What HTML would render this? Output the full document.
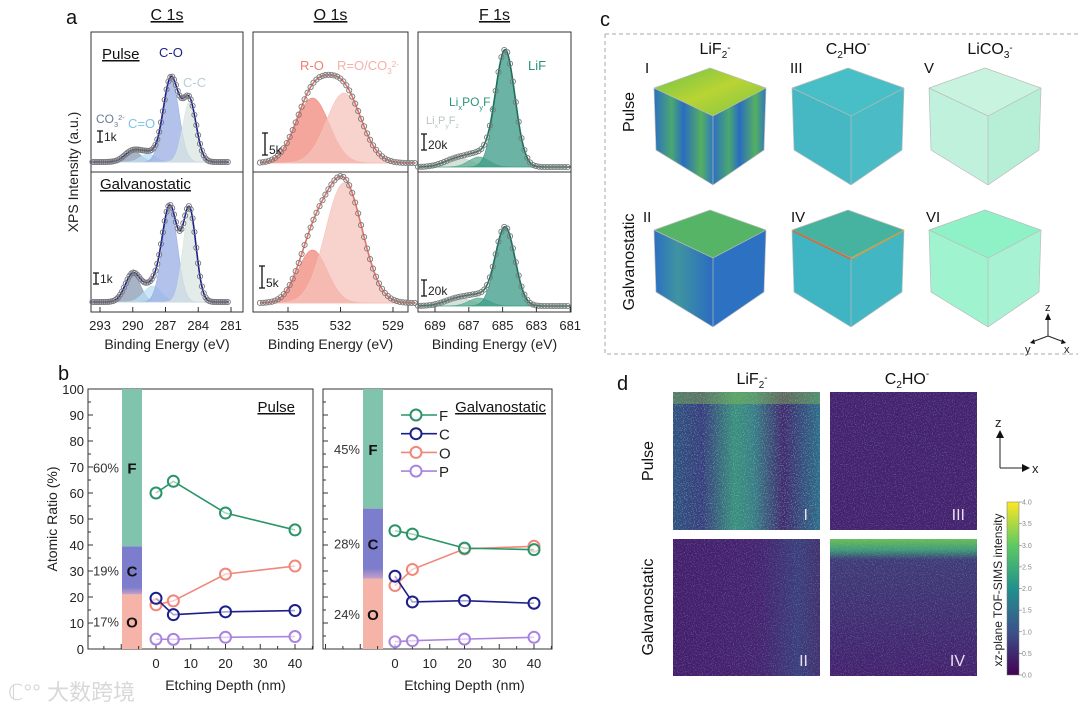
<!DOCTYPE html>
<html><head><meta charset="utf-8">
<style>
body{margin:0;background:#fff;}
svg{display:block;font-family:"Liberation Sans",Arial,sans-serif;}
</style></head>
<body>
<svg id="fig" width="1080" height="710" viewBox="0 0 1080 710" xmlns="http://www.w3.org/2000/svg">
<defs>
  <linearGradient id="viridis" x1="0" y1="1" x2="0" y2="0">
    <stop offset="0" stop-color="#440154"/><stop offset="0.25" stop-color="#3b528b"/>
    <stop offset="0.5" stop-color="#21918c"/><stop offset="0.75" stop-color="#5ec962"/>
    <stop offset="1" stop-color="#fde725"/>
  </linearGradient>
  <linearGradient id="barC" x1="0" y1="0" x2="0" y2="1">
    <stop offset="0" stop-color="#7c7dcc"/><stop offset="0.85" stop-color="#7c7dcc"/><stop offset="1" stop-color="#c8a0c8"/>
  </linearGradient>
  <linearGradient id="cubeTopI" x1="0" y1="0" x2="1" y2="1">
    <stop offset="0" stop-color="#6cc24a"/><stop offset="0.5" stop-color="#b9d433"/><stop offset="1" stop-color="#7cc448"/>
  </linearGradient>
  <linearGradient id="cubeSideI" x1="0" y1="0" x2="1" y2="0">
    <stop offset="0" stop-color="#2c6fc2"/><stop offset="0.3" stop-color="#4aa870"/><stop offset="0.5" stop-color="#2a6cc0"/><stop offset="0.8" stop-color="#55b060"/><stop offset="1" stop-color="#2e78c0"/>
  </linearGradient>
  <linearGradient id="cubeSideII" x1="0" y1="0" x2="1" y2="0">
    <stop offset="0" stop-color="#2c6fc2"/><stop offset="0.4" stop-color="#3f94a0"/><stop offset="1" stop-color="#2a6cc0"/>
  </linearGradient>
  <linearGradient id="hmI" x1="0" y1="0" x2="1" y2="0">
    <stop offset="0" stop-color="#31507e"/><stop offset="0.2" stop-color="#3a3c7e"/><stop offset="0.42" stop-color="#3c8f7c"/><stop offset="0.55" stop-color="#3a7d86"/><stop offset="0.75" stop-color="#43296f"/><stop offset="1" stop-color="#2f6c8a"/>
  </linearGradient>
  <linearGradient id="hmIV" x1="0" y1="0" x2="0" y2="1">
    <stop offset="0" stop-color="#6cbd54"/><stop offset="0.08" stop-color="#3f9a78"/><stop offset="0.15" stop-color="#413a78"/><stop offset="1" stop-color="#46206e"/>
  </linearGradient>
  <linearGradient id="hmII" x1="0" y1="0" x2="1" y2="0">
    <stop offset="0" stop-color="#461d6c"/><stop offset="0.6" stop-color="#472370"/><stop offset="0.85" stop-color="#3d3d7c"/><stop offset="1" stop-color="#443070"/>
  </linearGradient>
  <filter id="speck" x="0" y="0" width="1" height="1">
    <feTurbulence type="fractalNoise" baseFrequency="0.9" numOctaves="1" seed="3" result="n"/>
    <feColorMatrix in="n" type="matrix" values="0 0 0 0 0.2  0 0 0 0 0.6  0 0 0 0 0.55  0 0 0 6 -3.2"/>
  </filter>
</defs>
<g id="panelA"></g>
<g id="panelB"></g>
<g id="panelC"></g>
<g id="panelD"></g>
<text x="8" y="700" font-size="22" fill="#d8d8d8" font-family="'Liberation Sans','Noto Sans CJK SC',sans-serif">ℂ°° 大数跨境</text>
</svg>
<script>
// ---------- Panel b data ----------
const depths = [0, 5, 20, 40];
const pulseF = [60, 64.5, 52.3, 45.8];
const pulseC = [19.5, 13.2, 14.3, 14.8];
const pulseO = [17, 18.5, 28.8, 31.9];
const pulseP = [3.8, 3.7, 4.5, 4.8];
const galvF = [45.5, 44.2, 38.8, 38.2];
const galvC = [28, 18.1, 18.6, 17.6];
const galvO = [24.4, 30.6, 38.5, 39.5];
const galvP = [2.8, 3.2, 3.8, 4.5];
const pulseBar = [21, 18.5, 60.5];   // O, C, F stacked
const galvBar = [27, 27, 46];
const pulseBarLabels = ['17%', '19%', '60%'];
const galvBarLabels = ['24%', '28%', '45%'];
const yTicks = [0,10,20,30,40,50,60,70,80,90,100];
const xTicks = [0,10,20,30,40];
// ---------- Panel a data (peak fits: center eV, amplitude %, sigma eV) ----------
const c1sPulse = [[290.0,11,0.75],[288.6,8,0.7],[286.5,84,0.72],[284.8,60,0.62]];
const c1sGalv = [[290.0,28,0.7],[288.2,16,0.8],[286.6,94,0.7],[284.8,92,0.6]];
const o1sPulse = [[533.6,65,0.95],[531.8,70,1.0]];
const o1sGalv = [[533.6,53,0.85],[531.8,120,1.05]];
const f1sPulse = [[687.6,9,0.8],[686.4,10,0.6],[684.85,117,0.58]];
const f1sGalv = [[687.6,8,0.8],[686.4,8,0.6],[684.85,79,0.58]];
const c1sTicks = [293,290,287,284,281];
const o1sTicks = [535,532,529];
const f1sTicks = [689,687,685,683,681];

const NS='http://www.w3.org/2000/svg';
function mk(parent, tag, attrs, text){
  const e=document.createElementNS(NS,tag);
  for(const k in attrs) e.setAttribute(k,attrs[k]);
  if(text!==undefined) e.textContent=text;
  parent.appendChild(e); return e;
}
const A=document.getElementById('panelA');
const B=document.getElementById('panelB');
const C=document.getElementById('panelC');
const D=document.getElementById('panelD');

function chem(g,x,y,fs,fill,anchor){
  return function(parts){
    const t=mk(g,'text',{x:x,y:y,'font-size':fs,'text-anchor':anchor||'middle',fill:fill||'#111'});
    parts.forEach(p=>{
      const s=document.createElementNS(NS,'tspan');
      s.textContent=p[0];
      if(p[1]==='sub'||p[1]==='sup') s.setAttribute('font-size',fs*0.62);
      if(p[1]==='sub') s.setAttribute('dy',4); if(p[1]==='subback') s.setAttribute('dy',-4);
      if(p[1]==='sup') s.setAttribute('dy',-7); if(p[1]==='supback') s.setAttribute('dy',7);
      t.appendChild(s);
    });
    return t;
  };
}

// ================= Panel A =================
function gauss(E,p){return p[1]*Math.exp(-0.5*((E-p[0])/p[2])**2);}
function spectrum(g, peaks, xf, Emin, Emax, base, colors, env, scaleLbl, name){
  const step=0.05;
  peaks.forEach((p,i)=>{
    let d='M'+xf(Emax)+','+base;
    for(let E=Emax;E>=Emin;E-=step){d+=' L'+xf(E).toFixed(1)+','+(base-gauss(E,p)).toFixed(1);}
    d+=' L'+xf(Emin)+','+base+'Z';
    const pe=mk(g,'path',{d:d,fill:colors[i],'fill-opacity':0.75,stroke:colors[i],'stroke-width':0.6});
    
    
  });
  let d='';
  for(let E=Emax;E>=Emin;E-=step){let s=0;peaks.forEach(p=>s+=gauss(E,p));d+=(d?' L':'M')+xf(E).toFixed(1)+','+(base-s).toFixed(1);}
  const en=mk(g,'path',{d:d,fill:'none',stroke:env,'stroke-width':1.6});
  
  
  for(let E=Emax;E>=Emin;E-=0.17){
    let s=0;peaks.forEach(p=>s+=gauss(E,p));
    const c=mk(g,'circle',{cx:xf(E).toFixed(1),cy:(base-s).toFixed(1),r:2.6,fill:'none',stroke:'#7a7a7a','stroke-width':0.9});
    
    
  }
}
function frameA(x0,x1,title){
  mk(A,'rect',{x:x0,y:32,width:x1-x0,height:280,fill:'none',stroke:'#333','stroke-width':1});
  mk(A,'line',{x1:x0,y1:172,x2:x1,y2:172,stroke:'#333','stroke-width':1});
  const t=mk(A,'text',{x:(x0+x1)/2,y:20,'font-size':16,'text-anchor':'middle',fill:'#111','text-decoration':'underline'},title);
  
  
  mk(A,'text',{x:(x0+x1)/2,y:349,'font-size':14,'text-anchor':'middle',fill:'#222'},'Binding Energy (eV)');
}
function ticksA(ticks,xf){
  ticks.forEach(v=>{
    mk(A,'line',{x1:xf(v),y1:312,x2:xf(v),y2:307,stroke:'#333'});
    mk(A,'text',{x:xf(v),y:330,'font-size':13,'text-anchor':'middle',fill:'#222'},v);
  });
}
function scaleBar(x,y,h,lbl){
  mk(A,'path',{d:`M${x-3},${y} h6 M${x},${y} v${h} M${x-3},${y+h} h6`,stroke:'#111','stroke-width':1.3,fill:'none'});
  mk(A,'text',{x:x+4,y:y+h-1,'font-size':12,fill:'#222'},lbl);
}
mk(A,'text',{x:66,y:24,'font-size':20,fill:'#111'},'a');
const yt=mk(A,'text',{x:0,y:0,'font-size':14,'text-anchor':'middle',fill:'#222',transform:'translate(78,172) rotate(-90)'},'XPS Intensity (a.u.)');


// C1s
const xC=E=>100+(293-E)*131/12;
frameA(91,243,'C 1s');
spectrum(A,c1sPulse,xC,281.2,293.7,162,['#8a9ab3','#b9def4','#98ade3','#dbe6e2'],'#1c1f8a','','c1s-pulse');
spectrum(A,c1sGalv,xC,281.2,293.7,302,['#8a9ab3','#b9def4','#98ade3','#dbe6e2'],'#1c1f8a','','c1s-galv');
ticksA(c1sTicks,xC);
mk(A,'text',{x:102,y:59,'font-size':15,fill:'#111','text-decoration':'underline'},'Pulse');
mk(A,'text',{x:159,y:57,'font-size':13,fill:'#1c1f8a'},'C-O');
mk(A,'text',{x:183,y:87,'font-size':13,fill:'#b8ccd8'},'C-C');
chem(A,96,123,12,'#6a7d98','start')([['CO'],['3','sub'],['2-','sup']]);
mk(A,'text',{x:128,y:128,'font-size':13,fill:'#7fc4ea'},'C=O');
scaleBar(100,131,11,'1k');
mk(A,'text',{x:100,y:189,'font-size':15,fill:'#111','text-decoration':'underline'},'Galvanostatic');
scaleBar(96,273,11,'1k');
// O1s
const xO=E=>288+(535-E)*17.5;
frameA(253,408,'O 1s');
spectrum(A,o1sPulse,xO,527.7,536.6,163,['#f0877b','#f6c3bb'],'#e0736a','','o1s-pulse');
spectrum(A,o1sGalv,xO,527.7,536.6,303,['#f0877b','#f6c3bb'],'#e0736a','','o1s-galv');
ticksA(o1sTicks,xO);
mk(A,'text',{x:300,y:70,'font-size':13,fill:'#ef7f73'},'R-O');
chem(A,337,70,13,'#f3b1a8','start')([['R=O/CO'],['3','sub'],['2-','sup']]);
scaleBar(265,133,22,'5k');
scaleBar(262,266,22,'5k');
// F1s
const xF=E=>435+(689-E)*16.9;
frameA(418,571,'F 1s');
spectrum(A,f1sPulse,xF,681,690,167,['#c6d8cd','#5fae93','#3a9a85'],'#1f6e5e','','f1s-pulse');
spectrum(A,f1sGalv,xF,681,690,306,['#c6d8cd','#5fae93','#3a9a85'],'#1f6e5e','','f1s-galv');
ticksA(f1sTicks,xF);
mk(A,'text',{x:528,y:70,'font-size':13,fill:'#2a9478'},'LiF');
chem(A,449,106,12,'#2a9478','start')([['Li'],['x','sub'],['PO','subback'],['y','sub'],['F','subback'],['z','sub']]);
chem(A,426,124,11,'#b8c8be','start')([['Li'],['x','sub'],['P','subback'],['y','sub'],['F','subback'],['z','sub']]);
scaleBar(424,134,16,'20k');
scaleBar(424,280,16,'20k');

// ================= Panel B =================
const yB=v=>649-v*2.6;
mk(B,'text',{x:58,y:380,'font-size':20,fill:'#111'},'b');
const yb=mk(B,'text',{x:0,y:0,'font-size':14,'text-anchor':'middle',fill:'#222',transform:'translate(57,519) rotate(-90)'},'Atomic Ratio (%)');


function plotB(x0,x1,xz,barX,bar,barLbls,F,Cc,O,P,label,showY){
  const xf=d=>xz+d*139/40;
  const fr=mk(B,'rect',{x:x0,y:389,width:x1-x0,height:260,fill:'none',stroke:'#333','stroke-width':1});
  
  
  const cols=['#f6b4a9','url(#barC)','#80c4ad'];
  const letters=['O','C','F'];
  let cum=0;
  bar.forEach((v,i)=>{
    const r=mk(B,'rect',{x:barX,y:yB(cum+v),width:20,height:v*2.6,fill:cols[i]});
    
    
    const mid=yB(cum+v/2);
    mk(B,'text',{x:barX+10,y:mid+6,'font-size':15,'font-weight':'bold','text-anchor':'middle',fill:'#111'},letters[i]);
    mk(B,'text',{x:barX-3,y:mid+5,'font-size':13,'text-anchor':'end',fill:'#333'},barLbls[i]);
    cum+=v;
  });
  yTicks.forEach(v=>{
    mk(B,'line',{x1:x0,y1:yB(v),x2:x0+5,y2:yB(v),stroke:'#333'});
    if(v<100) mk(B,'line',{x1:x0,y1:yB(v+5),x2:x0+3,y2:yB(v+5),stroke:'#333'});
    if(showY) mk(B,'text',{x:x0-4,y:yB(v)+5,'font-size':13,'text-anchor':'end',fill:'#222'},v);
  });
  xTicks.forEach(v=>{
    mk(B,'line',{x1:xf(v),y1:649,x2:xf(v),y2:644,stroke:'#333'});
    mk(B,'text',{x:xf(v),y:668,'font-size':13,'text-anchor':'middle',fill:'#222'},v);
  });
  for(let v=-25;v<=45;v+=5){ if(xf(v)>x0&&xf(v)<x1&&v%10!==0) mk(B,'line',{x1:xf(v),y1:649,x2:xf(v),y2:646,stroke:'#333'}); }
  for(let v=-30;v<0;v+=10){ if(xf(v)>x0) mk(B,'line',{x1:xf(v),y1:649,x2:xf(v),y2:644,stroke:'#333'}); }
  mk(B,'text',{x:(xf(0)+xf(40))/2,y:690,'font-size':14,'text-anchor':'middle',fill:'#222'},'Etching Depth (nm)');
  const series=[[P,'#a983e0','p'],[O,'#f0877a','o'],[Cc,'#1c1f8a','c'],[F,'#2a9468','f']];
  series.forEach(s=>{
    const pts=s[0].map((v,i)=>xf(depths[i])+','+yB(v)).join(' ');
    const pl=mk(B,'polyline',{points:pts,fill:'none',stroke:s[1],'stroke-width':1.6});
    
    
    s[0].forEach((v,i)=>{
      const c=mk(B,'circle',{cx:xf(depths[i]),cy:yB(v),r:5.5,fill:'#fff','fill-opacity':0.6,stroke:s[1],'stroke-width':2});
      
      
    });
  });
}
plotB(88,313,156,122,pulseBar,pulseBarLabels,pulseF,pulseC,pulseO,pulseP,'Pulse',true);
plotB(323,552,395,363,galvBar,galvBarLabels,galvF,galvC,galvO,galvP,'Galvanostatic',false);
mk(B,'text',{x:295,y:412,'font-size':15,'text-anchor':'end',fill:'#111','text-decoration':'underline'},'Pulse');
mk(B,'text',{x:546,y:412,'font-size':15,'text-anchor':'end',fill:'#111','text-decoration':'underline'},'Galvanostatic');
const legItems=[['F','#2a9468'],['C','#1c1f8a'],['O','#f0877a'],['P','#a983e0']];
legItems.forEach((it,i)=>{
  const y=415+i*18.7;
  const g=mk(B,'g',{});
  
  
  mk(g,'line',{x1:401,y1:y,x2:437,y2:y,stroke:it[1],'stroke-width':1.6});
  mk(g,'circle',{cx:416,cy:y,r:5.5,fill:'#fff',stroke:it[1],'stroke-width':2});
  mk(g,'text',{x:439,y:y+6,'font-size':15,fill:'#222'},it[0]);
});

// ================= Panel C =================
mk(C,'text',{x:600,y:26,'font-size':20,fill:'#111'},'c');
mk(C,'path',{d:'M605,34 H1078 M605,34 V354 H1078',fill:'none',stroke:'#aaa','stroke-width':1,'stroke-dasharray':'4,3'});
chem(C,715,54,16)([['LiF'],['2','sub'],['-','sup']]);
chem(C,848,54,16)([['C'],['2','sub'],['HO','subback'],['-','sup']]);
chem(C,990,54,16)([['LiCO'],['3','sub'],['-','sup']]);
mk(C,'text',{x:0,y:0,'font-size':16,'text-anchor':'middle',fill:'#111',transform:'translate(634,112) rotate(-90)'},'Pulse');
mk(C,'text',{x:0,y:0,'font-size':16,'text-anchor':'middle',fill:'#111',transform:'translate(634,262) rotate(-90)'},'Galvanostatic');
function cube(cx,topY,fills,name){
  const w=56,h=117,d=20;
  const T=[cx,topY],L=[cx-w,topY+d],R=[cx+w,topY+d],F=[cx+3,topY+2*d+8];
  const LB=[cx-w+2,topY+h-35],RB=[cx+w-2,topY+h-35],FB=[cx+3,topY+h];
  const g=mk(C,'g',{});
  
  
  mk(g,'polygon',{points:[L,F,FB,LB].join(' '),fill:fills[1]});
  mk(g,'polygon',{points:[F,R,RB,FB].join(' '),fill:fills[2]});
  mk(g,'polygon',{points:[T,R,F,L].join(' '),fill:fills[0]});
  mk(g,'path',{d:`M${T} L${R} L${RB} L${FB} L${LB} L${L} Z M${L} L${F} L${R} M${F} L${FB}`,fill:'none',stroke:'#bbb','stroke-width':0.7});
  return g;
}
cube(710,68,['url(#cubeTopI)','url(#cubeSideI)','url(#cubeSideI)'],'cube-i-pulse-lif2');
cube(848,68,['#48bfc6','#45b8c4','#4bbcc6'],'cube-iii-pulse-c2ho');
cube(985,68,['#c7f3df','#c0f1dc','#b7efd6'],'cube-v-pulse-lico3');
cube(710,210,['#55b466','url(#cubeSideII)','#2d72c2'],'cube-ii-galv-lif2');
cube(848,210,['#46b2a0','#3fb4c2','#43b6c4'],'cube-iv-galv-c2ho');
cube(985,210,['#8ff2c6','#9ff3cf','#a6f2d2'],'cube-vi-galv-lico3');
mk(C,'line',{x1:793,y1:231,x2:851,y2:259,stroke:'#d56a3a','stroke-width':1.8});
mk(C,'line',{x1:851,y1:259,x2:903,y2:231,stroke:'#c9a040','stroke-width':1.5});
[['I',645,73],['III',790,73],['V',924,73],['II',643,222],['IV',791,222],['VI',926,222]].forEach(r=>{
  mk(C,'text',{x:r[1],y:r[2],'font-size':15,fill:'#111'},r[0]);
});
mk(C,'path',{d:'M1048,336 V318 M1048,336 L1032,342 M1048,336 L1064,342',stroke:'#222','stroke-width':1,fill:'none'});
mk(C,'path',{d:'M1045,320 L1048,313 L1051,320Z M1035,344 L1030,343 L1034,339Z M1061,344 L1066,343 L1062,339Z',fill:'#111'});
mk(C,'text',{x:1045,y:311,'font-size':11,fill:'#222'},'z');
mk(C,'text',{x:1025,y:353,'font-size':11,fill:'#222'},'y');
mk(C,'text',{x:1064,y:353,'font-size':11,fill:'#222'},'x');

// ================= Panel D =================
mk(D,'text',{x:617,y:390,'font-size':20,fill:'#111'},'d');
chem(D,752,384,16)([['LiF'],['2','sub'],['-','sup']]);
chem(D,907,384,16)([['C'],['2','sub'],['HO','subback'],['-','sup']]);
mk(D,'text',{x:0,y:0,'font-size':16,'text-anchor':'middle',fill:'#111',transform:'translate(653,461) rotate(-90)'},'Pulse');
mk(D,'text',{x:0,y:0,'font-size':16,'text-anchor':'middle',fill:'#111',transform:'translate(653,607) rotate(-90)'},'Galvanostatic');
function hm(x,y,w,h,fill,lbl,name,speckOp){
  const g=mk(D,'g',{});
  
  
  mk(g,'rect',{x:x,y:y,width:w,height:h,fill:fill});
  mk(g,'rect',{x:x,y:y,width:w,height:h,fill:'#fff',filter:'url(#speck)',opacity:speckOp});
  mk(g,'text',{x:x+w-12,y:y+h-10,'font-size':16,'text-anchor':'end',fill:'#e8e0f0'},lbl);
}
hm(673,392,147,138,'url(#hmI)','I','heatmap-i-pulse-lif2',0.5);
mk(D,'rect',{x:673,y:392,width:147,height:12,fill:'#8fc24a',opacity:0.4});
hm(830,392,147,138,'#46216f','III','heatmap-iii-pulse-c2ho',0.3);
hm(673,539,147,137,'url(#hmII)','II','heatmap-ii-galv-lif2',0.3);
hm(830,539,147,137,'url(#hmIV)','IV','heatmap-iv-galv-c2ho',0.3);
const cb=mk(D,'rect',{x:1007,y:502,width:12,height:173,fill:'url(#viridis)',stroke:'#777','stroke-width':0.5});


const cbTicks=[0,0.5,1,1.5,2,2.5,3,3.5,4];
cbTicks.forEach(v=>{
  const y=675-v*173/4;
  mk(D,'line',{x1:1019,y1:y,x2:1022,y2:y,stroke:'#777','stroke-width':0.6});
  mk(D,'text',{x:1022,y:y+2.5,'font-size':7,fill:'#888'},v.toFixed(1));
});
mk(D,'text',{x:0,y:0,'font-size':12,'text-anchor':'middle',fill:'#222',transform:'translate(1002,590) rotate(-90)'},'xz-plane TOF-SIMS intensity');
mk(D,'path',{d:'M1000,468 V436 M1000,468 H1024',stroke:'#222','stroke-width':1,fill:'none'});
mk(D,'path',{d:'M996,438 L1000,430 L1004,438Z M1022,464 L1030,468 L1022,472Z',fill:'#111'});
mk(D,'text',{x:995,y:427,'font-size':13,fill:'#222'},'z');
mk(D,'text',{x:1032,y:473,'font-size':13,fill:'#222'},'x');
</script>
</body></html>
